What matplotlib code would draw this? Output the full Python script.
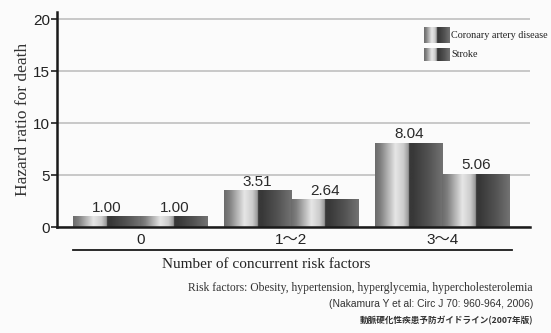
import numpy as np
import matplotlib
matplotlib.use("Agg")
import matplotlib.pyplot as plt
from matplotlib.colors import LinearSegmentedColormap

categories = ["0", "1〜2", "3〜4"]
series_names = ["Coronary artery disease", "Stroke"]
cad_values = [1.00, 3.51, 8.04]
stroke_values = [1.00, 2.64, 5.06]
y_ticks = [0, 5, 10, 15, 20]

SANS = ["Liberation Sans", "Noto Sans CJK JP", "DejaVu Sans"]
SERIF = ["Liberation Serif", "DejaVu Serif"]
CJK = ["Noto Sans CJK JP", "DejaVu Sans"]

# cylinder-like shading: light half followed by dark half
pos = [0.0, 0.08, 0.30, 0.42, 0.50, 0.501, 0.56, 0.80, 1.0]
val = [0.42, 0.50, 0.90, 0.80, 0.58, 0.22, 0.22, 0.33, 0.45]
shade = np.interp(np.linspace(0, 1, 256), pos, val)
grad = np.tile(shade, (2, 1))
gray = LinearSegmentedColormap.from_list("g", ["black", "white"])

fig = plt.figure(figsize=(5.51, 3.33), dpi=100)
fig.patch.set_facecolor("#fbfbfb")
ax = fig.add_axes([0.1034, 0.318, 0.8586, 0.646])
ax.set_facecolor("#fbfbfb")

x = np.arange(len(categories))
width = 0.447
bars_cad = ax.bar(x - width / 2, cad_values, width, color="none", edgecolor="none")
bars_str = ax.bar(x + width / 2, stroke_values, width, color="none", edgecolor="none")

for bars, values in ((bars_cad, cad_values), (bars_str, stroke_values)):
    for b, v in zip(bars, values):
        x0 = b.get_x()
        x1 = x0 + b.get_width()
        ax.imshow(grad, extent=(x0, x1, 0, v), aspect="auto", cmap=gray,
                  vmin=0, vmax=1, interpolation="bilinear", zorder=2)
        ax.text((x0 + x1) / 2, v + 0.2, f"{v:.2f}", ha="center", va="bottom",
                fontsize=11, family=SANS, color="#2a2a2a", zorder=3)

ax.set_xlim(-0.553, 2.58)
ax.set_ylim(0, 20.7)
ax.set_yticks(y_ticks)
ax.set_yticklabels([str(t) for t in y_ticks], family=SANS, fontsize=11, color="#222222")
ax.set_xticks(x)
ax.set_xticklabels(categories, family=SANS, fontsize=11, color="#222222")
ax.tick_params(axis="x", length=0, pad=4)
ax.tick_params(axis="y", length=4, width=1.2, color="#222222", pad=1)
ax.yaxis.grid(True, color="#c4c4c4", linewidth=1.3)
ax.set_axisbelow(True)
for s in ("top", "right"):
    ax.spines[s].set_visible(False)
for s in ("left", "bottom"):
    ax.spines[s].set_linewidth(1.8)
    ax.spines[s].set_color("#1a1a1a")
    ax.spines[s].set_zorder(4)

ax.set_ylabel("Hazard ratio for death", family=SERIF, fontsize=12.5,
              color="#333333", labelpad=1.5)

# legend swatches
leg_x, leg_w = 0.776, 0.053
swatches = [(0.856, 0.070), (0.772, 0.058)]
for name, (y0, h) in zip(series_names, swatches):
    ax.imshow(grad, extent=(leg_x, leg_x + leg_w, y0, y0 + h),
              transform=ax.transAxes, aspect="auto", cmap=gray, vmin=0, vmax=1,
              interpolation="bilinear", zorder=3)
    ax.text(leg_x + leg_w + 0.004, y0 + h / 2, name, transform=ax.transAxes,
            family=SERIF, fontsize=7.3, va="center", ha="left", color="#222222")

# separator line below the category labels
fig.add_artist(plt.Line2D([73 / 551, 512 / 551], [1 - 250 / 333, 1 - 250 / 333],
                          color="#1a1a1a", linewidth=1.3))
fig.text(266 / 551, 1 - 264 / 333, "Number of concurrent risk factors",
         family=SERIF, fontsize=11, ha="center", va="center", color="#222222")
fig.text(533 / 551, 1 - 288 / 333,
         "Risk factors: Obesity, hypertension, hyperglycemia, hypercholesterolemia",
         family=SERIF, fontsize=8.4, ha="right", va="center", color="#333333")
fig.text(533 / 551, 1 - 304 / 333, "(Nakamura Y et al: Circ J 70: 960-964, 2006)",
         family=SANS, fontsize=7.4, ha="right", va="center", color="#333333")
fig.text(533 / 551, 1 - 321 / 333, "動脈硬化性疾患予防ガイドライン(2007年版)",
         family=CJK, fontsize=6.2, ha="right", va="center", color="#333333",
         fontweight="bold")

fig.savefig("out.png", dpi=100, facecolor=fig.get_facecolor())
